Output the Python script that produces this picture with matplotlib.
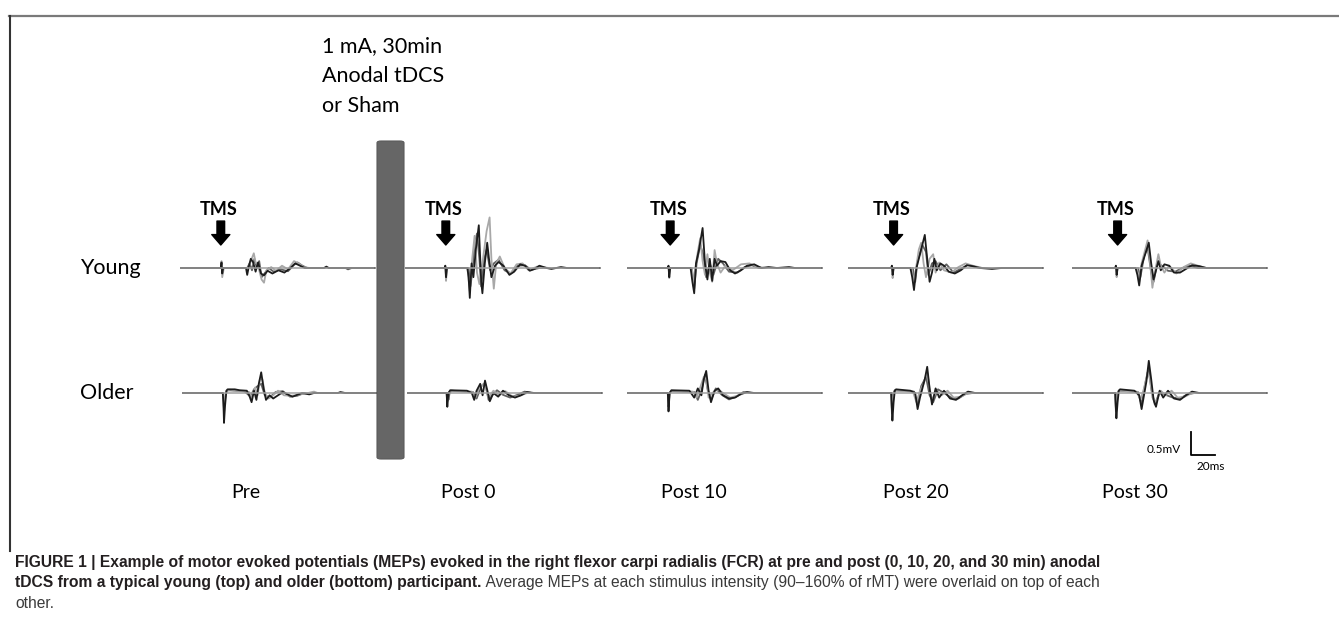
import matplotlib
matplotlib.use("Agg")
import matplotlib.pyplot as plt
from matplotlib.patches import FancyBboxPatch
from matplotlib.lines import Line2D

W, H = 1339, 622
fig = plt.figure(figsize=(W / 100, H / 100), dpi=100)

LABEL_FONT = ["Lato", "DejaVu Sans"]
CAP_FONT = ["Liberation Sans Narrow", "Liberation Sans", "DejaVu Sans"]

# ---------------- data ----------------
timepoints = ["Pre", "Post 0", "Post 10", "Post 20", "Post 30"]
groups = ["Young", "Older"]
window_ms = 162
tms_ms = [34, 34, 36, 38, 38]
scale_mv = 0.5
scale_ms = 20

# each panel: list of traces, each trace (time ms, amplitude mV) pairs
young_pre = [
    [(0, 0), (34, 0), (34.6, 0.12), (35.2, -0.12), (36, 0), (55, 0), (56, -0.15), (57.5, 0.05), (59, 0.2), (61, 0.12),
     (63, -0.08), (65, 0.12), (67.5, -0.12), (70, -0.16), (73, -0.06), (77, -0.12), (82, -0.05), (87, -0.1), (92, 0),
     (96, 0.1), (100, 0.05), (104, 0), (120, 0), (122, 0.03), (124, 0), (162, 0)],
    [(0, 0), (34, 0), (34.6, 0.15), (35.2, -0.2), (36.5, 0), (57, 0), (59, 0.15), (61.5, 0.32), (63, 0.12), (65, 0.05),
     (68, -0.25), (70, -0.32), (72, -0.05), (76, 0.02), (80, -0.06), (85, 0.05), (90, -0.03), (95, 0.15), (99, 0.1),
     (103, 0.02), (108, 0), (162, 0)],
    [(0, 0), (56, 0), (58, 0.1), (60, -0.05), (62, 0.2), (64, 0), (66, 0.15), (68, -0.2), (71, -0.1), (74, 0),
     (78, -0.08), (84, -0.03), (90, -0.07), (95, 0.07), (98, 0.12), (102, 0.05), (106, 0), (138, 0), (140, -0.03),
     (143, 0), (162, 0)],
]
young_post0 = [
    [(0, 0), (33, 0), (33.6, 0.05), (34.2, -0.2), (35, 0), (52, 0), (53, -0.2), (54, -0.65), (55.5, 0.1), (57, -0.2),
     (59, 0.4), (61.5, 0.93), (63.5, -0.3), (64.5, -0.55), (66.5, 0.1), (68.5, 0.55), (70, 0.2), (72, -0.2), (75, 0.05),
     (78, 0.13), (82, 0.05), (87, -0.15), (91, -0.08), (96, 0.08), (100, 0.05), (104, -0.06), (108, -0.02), (112, 0.05),
     (118, 0), (122, -0.02), (130, 0.02), (135, 0), (162, 0)],
    [(0, 0), (33, 0), (33.6, 0.05), (34.2, -0.28), (35, 0), (52, 0), (54, -0.5), (56, 0.2), (58, 0.7), (60, -0.1),
     (62, -0.35), (65, 0.2), (68, 0.8), (70.5, 1.1), (72, 0.2), (74, -0.45), (76, 0.1), (79, 0.25), (83, 0), (88, -0.12),
     (93, 0.08), (98, 0.1), (103, -0.05), (110, 0.03), (120, 0), (162, 0)],
    [(0, 0), (53, 0), (54.5, -0.4), (56, -0.1), (58, 0.5), (60, 0.75), (62, 0.2), (63.5, -0.4), (66, 0.2), (68, 0.4),
     (71, -0.05), (74, 0.1), (78, 0.18), (83, -0.05), (88, -0.12), (94, 0.05), (100, 0.06), (105, -0.04), (112, 0),
     (162, 0)],
]
young_post10 = [
    [(0, 0), (34, 0), (34.6, 0.05), (35.2, -0.2), (36, 0), (53, 0), (54.5, -0.3), (56, -0.55), (57.5, 0.1), (60, 0.4),
     (63, 0.87), (65, 0.1), (67, -0.25), (69, 0.2), (71, -0.28), (73, 0.2), (75, 0.05), (78, 0.15), (82, 0.13),
     (86, -0.05), (90, -0.12), (95, -0.05), (100, 0.05), (106, 0.08), (112, 0), (118, 0.02), (125, 0), (135, 0.02),
     (140, 0), (162, 0)],
    [(0, 0), (34, 0), (34.6, 0.04), (35.2, -0.22), (36, 0), (54, 0), (55.5, -0.4), (57, 0), (59, 0.35), (61, 0.65),
     (63, 0.15), (65, -0.15), (67, 0.3), (69, -0.1), (71, -0.3), (73, 0.39), (75, 0.1), (78, -0.1), (82, 0.05),
     (88, -0.05), (95, 0.08), (102, 0.1), (108, 0.03), (115, 0), (162, 0)],
    [(0, 0), (54, 0), (56, -0.45), (58, 0.1), (61, 0.5), (63.5, 0.3), (66, -0.2), (69, 0.1), (72, -0.15), (76, 0.2),
     (80, 0.1), (85, -0.08), (92, -0.1), (98, 0.02), (104, 0.06), (110, 0), (162, 0)],
]
young_post20 = [
    [(0, 0), (36, 0), (36.6, 0.05), (37.2, -0.15), (38, 0), (52, 0), (53.5, -0.2), (55, -0.48), (57, 0), (60, 0.3),
     (64, 0.72), (66, 0.2), (68, -0.3), (70, -0.1), (72, 0.2), (74, -0.05), (77, 0.1), (80, 0.05), (84, -0.08),
     (89, -0.12), (94, -0.05), (99, 0.06), (104, 0.04), (110, 0), (120, -0.02), (128, 0), (162, 0)],
    [(0, 0), (36, 0), (36.6, 0.05), (37.2, -0.22), (38, 0), (53, 0), (55, -0.35), (57, 0.05), (59, 0.4), (61, 0.55),
     (63, 0.1), (65, -0.2), (68, 0.2), (71, 0.3), (73, -0.1), (76, 0.12), (80, -0.05), (86, -0.1), (92, 0.02),
     (98, 0.1), (104, 0.05), (112, 0), (162, 0)],
    [(0, 0), (54, 0), (56, -0.3), (58, 0.15), (62, 0.5), (65, 0.35), (67, -0.15), (70, 0.1), (73, 0.15), (77, -0.05),
     (82, 0.08), (88, -0.1), (95, 0), (100, 0.07), (106, 0.02), (112, 0), (162, 0)],
]
young_post30 = [
    [(0, 0), (36, 0), (36.6, 0.05), (37.2, -0.15), (38, 0), (53, 0), (54.5, -0.15), (56, -0.38), (58, 0.05), (61, 0.3),
     (64, 0.55), (66, 0.1), (68, -0.25), (70, -0.05), (72, 0.15), (74, -0.05), (77, 0.08), (81, 0.05), (85, -0.1),
     (90, -0.1), (95, -0.02), (100, 0.06), (106, 0.04), (112, 0), (162, 0)],
    [(0, 0), (36, 0), (36.6, 0.05), (37.2, -0.2), (38, 0), (54, 0), (56, -0.3), (58, 0.1), (60.5, 0.35), (63, 0.6),
     (65, 0.15), (67, -0.43), (69, -0.1), (72, 0.3), (74, 0.05), (77, -0.1), (81, 0.05), (87, -0.12), (93, 0.02),
     (99, 0.1), (105, 0.05), (112, 0), (162, 0)],
    [(0, 0), (55, 0), (57, -0.2), (60, 0.25), (63, 0.45), (66, -0.1), (68, -0.3), (71, 0.1), (75, 0.05), (80, -0.06),
     (86, -0.08), (92, 0), (98, 0.05), (105, 0), (162, 0)],
]
older_pre = [
    [(0, 0), (34, 0), (34.5, -0.2), (35, -0.65), (35.8, -0.3), (37, 0.05), (38, 0.08), (44, 0.08), (48, 0.06),
     (54, 0.05), (56, -0.05), (58, -0.2), (60, 0.05), (62, -0.15), (64, 0.2), (66, 0.45), (68, 0.1), (70, -0.15),
     (73, -0.05), (76, -0.12), (80, -0.05), (84, 0.02), (88, -0.03), (92, -0.08), (96, -0.04), (100, 0), (106, -0.03),
     (110, 0), (130, 0), (132, 0.02), (136, 0), (162, 0)],
    [(0, 0), (34, 0), (34.5, -0.1), (35, -0.45), (36, -0.1), (37, 0.04), (40, 0.07), (50, 0.04), (56, 0.02),
     (58, -0.1), (61, 0.12), (63, -0.05), (65, 0.3), (67, 0.3), (69, 0), (72, -0.12), (76, -0.05), (80, 0.05),
     (85, -0.05), (90, -0.06), (95, -0.05), (100, -0.02), (105, 0), (110, 0.03), (113, 0), (162, 0)],
    [(0, 0), (34, 0), (35, -0.35), (36.5, 0), (38, 0.06), (52, 0.04), (57, -0.08), (60, 0.08), (63, 0.15), (66, 0.2),
     (69, -0.05), (73, -0.1), (78, 0.02), (84, 0.04), (90, -0.08), (96, -0.06), (102, 0), (162, 0)],
]
older_post0 = [
    [(0, 0), (33, 0), (33.6, -0.3), (34.5, 0), (36, 0.06), (50, 0.05), (54, 0), (56, -0.15), (58, 0.05), (61, 0.2),
     (63, -0.05), (65, 0.27), (67, 0.05), (69, -0.18), (72, 0), (76, -0.08), (80, 0.05), (85, -0.05), (90, -0.1),
     (95, -0.05), (100, 0.02), (106, 0), (162, 0)],
    [(0, 0), (33, 0), (33.6, -0.2), (34.5, 0), (36, 0.05), (54, 0.03), (57, -0.1), (60, 0.1), (64, 0.2), (66, 0.1),
     (68, -0.1), (72, 0.05), (77, -0.05), (82, 0.04), (88, -0.08), (94, -0.06), (100, 0), (162, 0)],
    [(0, 0), (34, 0), (34.5, -0.15), (35.5, 0), (37, 0.05), (55, 0.02), (58, -0.12), (62, 0.15), (65, 0.22),
     (68, -0.15), (71, -0.05), (75, 0.06), (80, -0.04), (86, -0.1), (92, -0.04), (98, 0.03), (104, 0), (162, 0)],
]
older_post10 = [
    [(0, 0), (34, 0), (34.6, -0.4), (35.5, 0), (37, 0.06), (52, 0.05), (56, -0.1), (59, 0.1), (62, -0.05), (64, 0.3),
     (66, 0.48), (68, 0.05), (70, -0.2), (73, 0.05), (76, 0.1), (80, -0.05), (85, -0.12), (90, -0.1), (95, -0.02),
     (100, 0.02), (106, 0), (162, 0)],
    [(0, 0), (34, 0), (34.6, -0.25), (35.5, 0), (37, 0.05), (55, 0.03), (58, -0.1), (61, 0.12), (64, 0.35), (66, 0.3),
     (68, -0.1), (72, 0.02), (76, 0.08), (80, 0), (86, -0.1), (92, -0.06), (98, 0), (162, 0)],
    [(0, 0), (34, 0), (34.6, -0.3), (35.5, 0), (37, 0.04), (56, 0.02), (59, -0.15), (62, 0.05), (65, 0.4), (67, 0.1),
     (70, -0.15), (74, 0.1), (79, -0.04), (85, -0.14), (91, -0.08), (97, 0.02), (104, 0), (162, 0)],
]
older_post20 = [
    [(0, 0), (36, 0), (36.5, -0.3), (37, -0.6), (38, -0.2), (39, 0.05), (40, 0.08), (52, 0.05), (56, 0), (58, -0.35),
     (60, -0.1), (62, 0.1), (64, 0.3), (66, 0.57), (68, 0.1), (70, -0.25), (73, 0.1), (76, -0.1), (80, 0.05),
     (85, -0.12), (90, -0.15), (95, -0.05), (100, 0.03), (106, 0), (162, 0)],
    [(0, 0), (36, 0), (36.6, -0.35), (37.5, -0.1), (39, 0.05), (54, 0.04), (57, -0.2), (60, 0.05), (63, 0.2),
     (66, 0.45), (68, 0.1), (70, -0.15), (74, 0.05), (78, -0.05), (83, 0.05), (88, -0.1), (94, -0.08), (100, 0),
     (162, 0)],
    [(0, 0), (36, 0), (36.6, -0.45), (37.8, 0), (39, 0.06), (55, 0.03), (58, -0.25), (61, 0.15), (65, 0.35),
     (68, -0.05), (71, -0.2), (75, 0.08), (80, 0), (86, -0.1), (92, -0.12), (98, -0.02), (104, 0), (162, 0)],
]
older_post30 = [
    [(0, 0), (36, 0), (36.5, -0.3), (37, -0.55), (38, -0.2), (39, 0.05), (40, 0.08), (52, 0.05), (56, -0.05),
     (58, -0.35), (60, -0.05), (62, 0.25), (64, 0.7), (66, 0.3), (68, -0.15), (70, -0.3), (73, 0.05), (76, -0.1),
     (80, 0.05), (85, -0.12), (90, -0.15), (95, -0.05), (100, 0.03), (106, 0), (162, 0)],
    [(0, 0), (36, 0), (36.6, -0.3), (37.5, -0.05), (39, 0.05), (54, 0.03), (57, -0.15), (60, 0.1), (63, 0.45),
     (65, 0.3), (67, -0.1), (70, -0.2), (74, 0.05), (78, -0.05), (83, 0.05), (88, -0.1), (94, -0.08), (100, 0),
     (162, 0)],
    [(0, 0), (36, 0), (36.6, -0.4), (37.8, 0), (39, 0.05), (55, 0.02), (58, -0.25), (61, 0.2), (64, 0.55), (66, 0.1),
     (69, -0.25), (73, 0.02), (78, -0.04), (84, -0.1), (90, -0.12), (96, -0.03), (102, 0), (162, 0)],
]
young_panels = [young_pre, young_post0, young_post10, young_post20, young_post30]
older_panels = [older_pre, older_post0, older_post10, older_post20, older_post30]

# ---------------- layout (pixels) ----------------
PX_PER_MS = 1.2
PX_PER_MV = 46.0
XMAX_MS = 165
YLIM = (-1.5, 1.5)
young_x0 = [180, 405, 627, 848, 1072]
older_x0 = [182, 407, 627, 848, 1072]
row_base_px = {"Young": 268, "Older": 393}
trace_colors = ["#1c1c1c", "#a8a8a8", "#606060"]
base_color = "#a0a0a0"


def make_axes(x0_px, base_px):
    w = XMAX_MS * PX_PER_MS
    h = (YLIM[1] - YLIM[0]) * PX_PER_MV
    top = base_px - YLIM[1] * PX_PER_MV
    ax = fig.add_axes([x0_px / W, 1 - (top + h) / H, w / W, h / H])
    ax.set_xlim(0, XMAX_MS)
    ax.set_ylim(*YLIM)
    ax.axis("off")
    ax.patch.set_alpha(0)
    return ax


def draw_panel(ax, traces):
    for tr, c in zip(traces[::-1], trace_colors[::-1]):
        t = [p[0] for p in tr]
        v = [p[1] for p in tr]
        ax.plot(t, v, color=c, lw=1.3, solid_joinstyle="round", zorder=2)
    ax.plot([0, window_ms], [0, 0], color=base_color, lw=1.1, zorder=3)


young_axes = []
older_axes = []
for i in range(5):
    ay = make_axes(young_x0[i], row_base_px["Young"])
    draw_panel(ay, young_panels[i])
    young_axes.append(ay)
    ao = make_axes(older_x0[i], row_base_px["Older"])
    draw_panel(ao, older_panels[i])
    older_axes.append(ao)
    # TMS arrow
    ay.annotate("", xy=(tms_ms[i], 0.5), xytext=(tms_ms[i], 1.02),
                arrowprops=dict(arrowstyle="simple,head_width=1.3,head_length=0.75,tail_width=0.55",
                                color="black", mutation_scale=10, shrinkA=0, shrinkB=0))
    ay.text(tms_ms[i] - 1.5, 1.28, "TMS", ha="center", va="center", fontsize=13,
            fontweight="bold", family=LABEL_FONT)

# scale bar in last older panel
sb = older_axes[-1]
sb_t0, sb_v0 = 99, -1.35
sb.plot([sb_t0, sb_t0, sb_t0 + scale_ms], [sb_v0 + scale_mv, sb_v0, sb_v0], color="black", lw=1.3,
        clip_on=False)
sb.text(sb_t0 - 8, sb_v0 + 0.12, "0.5mV", ha="right", va="center", fontsize=8.5, family=LABEL_FONT)
sb.text(sb_t0 + 5, sb_v0 - 0.25, "20ms", ha="left", va="center", fontsize=8.5, family=LABEL_FONT)

# ---------------- decorations ----------------
def fx(px):
    return px / W


def fy(py):
    return 1 - py / H


fig.add_artist(Line2D([fx(9), fx(1339)], [fy(16), fy(16)], color="#7a7a7a", lw=1.6))
fig.add_artist(Line2D([fx(9.5), fx(9.5)], [fy(15.5), fy(551)], color="#333333", lw=1.5))

bar = FancyBboxPatch((fx(377), fy(459)), fx(404) - fx(377), fy(141) - fy(459),
                     boxstyle="round,pad=0,rounding_size=0.003", facecolor="#666666",
                     edgecolor="#5a5a5a", lw=0.8, transform=fig.transFigure)
fig.add_artist(bar)

TXT = 15.5
fig.text(fx(322), fy(46), "1 mA, 30min", fontsize=TXT, va="center", ha="left", family=LABEL_FONT)
fig.text(fx(322), fy(76), "Anodal tDCS", fontsize=TXT, va="center", ha="left", family=LABEL_FONT)
fig.text(fx(322), fy(106), "or Sham", fontsize=TXT, va="center", ha="left", family=LABEL_FONT)

for g in groups:
    fig.text(fx(80), fy(row_base_px[g]), g, fontsize=TXT, va="center", ha="left", family=LABEL_FONT)

label_cx = [246, 468, 694, 916, 1135]
for lab, cx in zip(timepoints, label_cx):
    fig.text(fx(cx), fy(493), lab, fontsize=14, va="center", ha="center", family=LABEL_FONT)

# ---------------- caption ----------------
cap_bold1 = ("FIGURE 1 | Example of motor evoked potentials (MEPs) evoked in the right flexor carpi radialis "
             "(FCR) at pre and post (0, 10, 20, and 30 min) anodal")
cap_bold2 = "tDCS from a typical young (top) and older (bottom) participant."
cap_reg2 = " Average MEPs at each stimulus intensity (90\u2013160% of rMT) were overlaid on top of each"
cap_reg3 = "other."
cap_color = "#231f20"
CAP = 11.25
fig.text(fx(15), fy(562), cap_bold1, fontsize=CAP, fontweight="bold", va="center", ha="left",
         family=CAP_FONT, color=cap_color)
tb = fig.text(fx(15), fy(583), cap_bold2, fontsize=CAP, fontweight="bold", va="center", ha="left",
              family=CAP_FONT, color=cap_color)
fig.canvas.draw()
bb = tb.get_window_extent()
fig.text(bb.x1 / W, fy(583), cap_reg2, fontsize=CAP, va="center", ha="left", family=CAP_FONT,
         color="#3a3a3a")
fig.text(fx(15), fy(604), cap_reg3, fontsize=CAP, va="center", ha="left", family=CAP_FONT, color="#3a3a3a")

fig.savefig("out.png", dpi=100)
